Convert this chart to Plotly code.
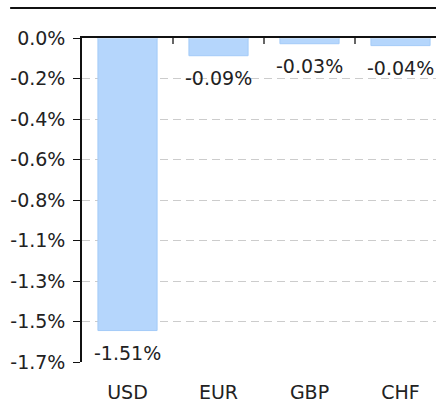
import plotly.graph_objects as go

currencies = ["USD", "EUR", "GBP", "CHF"]
changes = [-1.535, -0.093, -0.030, -0.040]
labels = ["-1.51%", "-0.09%", "-0.03%", "-0.04%"]

tick_vals = [0, -0.2125, -0.425, -0.6375, -0.85, -1.0625, -1.275, -1.4875, -1.7]
tick_text = ["0.0%", "-0.2%", "-0.4%", "-0.6%", "-0.8%", "-1.1%", "-1.3%", "-1.5%", "-1.7%"]

FONT = "DejaVu Sans"
TXT = "#222222"
SIZE = 19

fig = go.Figure()
fig.add_trace(go.Bar(
    x=currencies, y=changes,
    marker=dict(color="#b5d6fc", line=dict(color="#a3cbf8", width=1)),
))
# invisible trace on the top axis so it shows the boundary ticks along y=0
fig.add_trace(go.Bar(x=currencies, y=[0, 0, 0, 0], xaxis="x2", showlegend=False,
                     hoverinfo="skip", marker_color="rgba(0,0,0,0)"))

# value labels under each bar
for cur, val, lab in zip(currencies, changes, labels):
    fig.add_annotation(x=cur, y=val, text=lab, showarrow=False,
                       yanchor="top", yshift=-9,
                       font=dict(family=FONT, size=SIZE, color=TXT))

fig.update_layout(
    width=436, height=402,
    margin=dict(l=82, r=0, t=38, b=40),
    paper_bgcolor="white", plot_bgcolor="white",
    showlegend=False, bargap=0.35,
    font=dict(family=FONT, size=SIZE, color=TXT),
    xaxis=dict(
        range=[-0.5, 3.39], showline=False, showgrid=False, ticks="",
        tickfont=dict(family=FONT, size=SIZE, color=TXT), ticklabelstandoff=17,
    ),
    xaxis2=dict(
        overlaying="x", side="top", anchor="y", range=[-0.5, 3.39],
        showline=True, linecolor="#111111", linewidth=1.5,
        ticks="inside", ticklen=6, tickwidth=2, tickcolor="#666666",
        tickson="boundaries", showticklabels=False, showgrid=False,
        matches="x",
    ),
    yaxis=dict(
        range=[-1.7, 0], tickvals=tick_vals, ticktext=tick_text,
        showline=True, linecolor="#111111", linewidth=1.5,
        ticks="outside", ticklen=7, tickcolor="#111111", ticklabelstandoff=4,
        showgrid=True, gridcolor="#cccccc", griddash="8px,5px", gridwidth=1,
        zeroline=False, tickfont=dict(family=FONT, size=SIZE, color=TXT),
    ),
    shapes=[dict(type="line", xref="paper", yref="paper", x0=-0.203, x1=1.02,
                 y0=1.0926, y1=1.0926, line=dict(color="#111111", width=2))],
)

# drop the default page margin so the figure sits at the window's corner
fig.write_html("out.html", config={"displayModeBar": False},
               post_script="document.body.style.margin='0';"
                           "document.body.style.overflow='hidden';")
